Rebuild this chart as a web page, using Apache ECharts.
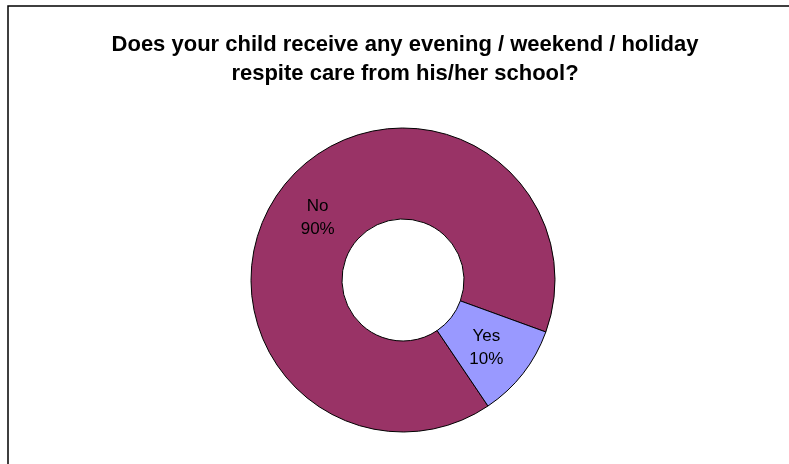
<!DOCTYPE html>
<html>
<head>
<meta charset="utf-8">
<script src="https://cdn.jsdelivr.net/npm/echarts@6/dist/echarts.min.js"></script>
<style>
  html, body { margin: 0; padding: 0; background: #fff; }
  #main { width: 789px; height: 464px; }
</style>
</head>
<body>
<div id="main"></div>
<script>
// answers and their share in percent
const categories = ['No', 'Yes'];
const shares = [90, 10];
const sliceColors = ['#993366', '#9999FF'];

const chart = echarts.init(document.getElementById('main'));

const option = {
  backgroundColor: '#fff',
  animation: false,
  title: {
    text: 'Does your child receive any evening / weekend / holiday\nrespite care from his/her school?',
    left: 400,
    top: 25,
    textAlign: 'center',
    textStyle: {
      fontFamily: 'Liberation Sans, Arial, sans-serif',
      fontSize: 22,
      fontWeight: 'bold',
      color: '#000',
      lineHeight: 29
    }
  },
  graphic: [
    {
      // chart area frame, runs off the right and bottom edges
      type: 'rect',
      shape: { x: 8, y: 6, width: 800, height: 480 },
      style: { fill: 'none', stroke: '#000', lineWidth: 1.5 },
      silent: true
    }
  ],
  series: [
    {
      type: 'pie',
      center: [403, 280],
      radius: [61, 152],
      startAngle: 304,
      clockwise: true,
      avoidLabelOverlap: false,
      label: {
        show: true,
        position: 'inside',
        formatter: '{b}\n{c}%',
        fontFamily: 'Liberation Sans, Arial, sans-serif',
        fontSize: 17,
        lineHeight: 23,
        color: '#000'
      },
      labelLine: { show: false },
      itemStyle: { borderColor: '#000', borderWidth: 1 },
      emphasis: { disabled: true },
      data: categories.map((name, i) => ({
        name: name,
        value: shares[i],
        itemStyle: { color: sliceColors[i] },
        label: { offset: i === 0 ? [1, 5] : [-3, 0] }
      }))
    }
  ]
};

chart.setOption(option);
</script>
</body>
</html>
